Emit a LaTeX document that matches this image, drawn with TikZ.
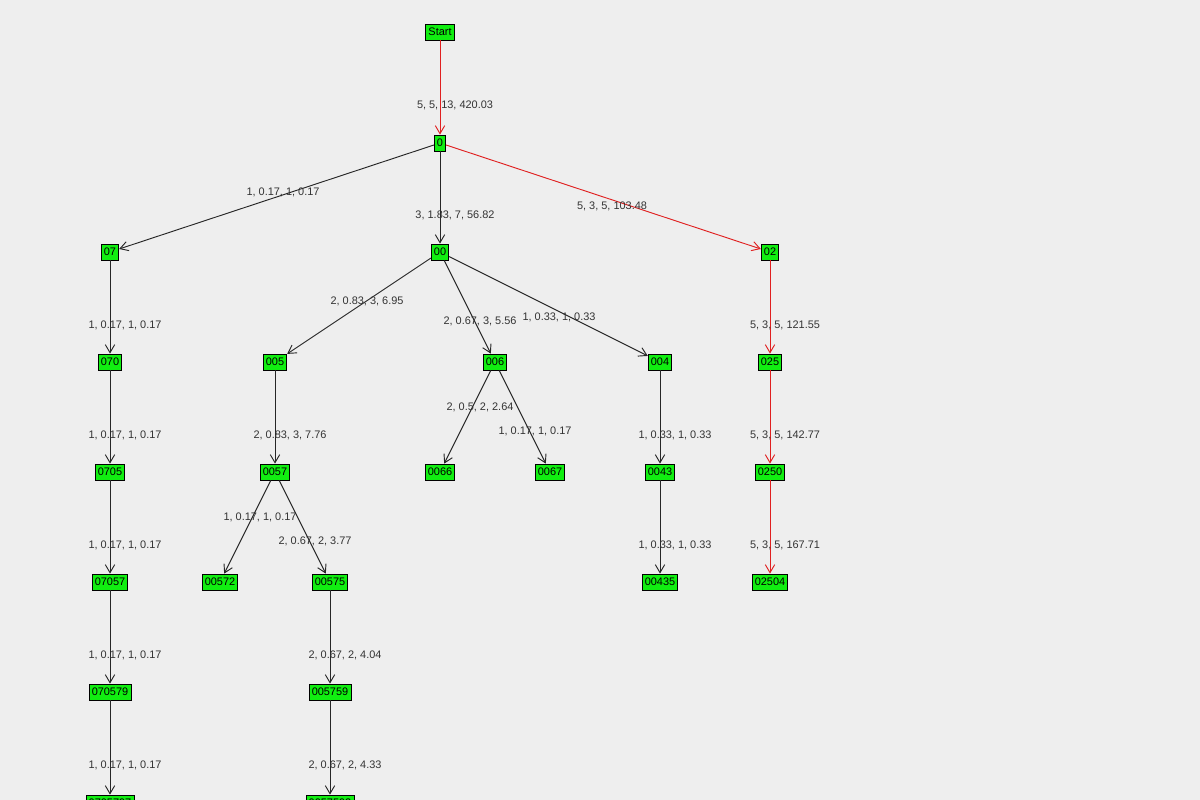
\documentclass[tikz,border=0pt]{standalone}
\usepackage{fontspec}
\setmainfont{Liberation Sans}
\usetikzlibrary{arrows.meta}
\definecolor{bg}{HTML}{EEEEEE}
\definecolor{nodegreen}{HTML}{11EE11}
\definecolor{lbl}{HTML}{333333}
\definecolor{redline}{HTML}{E02020}
\begin{document}
\begin{tikzpicture}[x=0.75pt,y=-0.75pt,
  tn/.style={draw=black,fill=nodegreen,inner xsep=2pt,inner ysep=1pt,minimum height=12pt,font=\fontsize{8.2}{9}\selectfont,line width=0.6pt},
  ed/.style={draw=black!85,line width=0.7pt,-{Straight Barb[length=6pt,width=7pt]}},
  red/.style={ed,draw=redline},
  el/.style={font=\fontsize{8.2}{9}\selectfont,text=lbl}]
\fill[bg] (0,0) rectangle (1200,800);
\useasboundingbox (0,0) rectangle (1200,800);
\clip (0,0) rectangle (1200,800);
\node[tn] (s) at (440,32) {Start};
\node[tn] (n0) at (440,143) {0};
\node[tn] (n07) at (110,252) {07};
\node[tn] (n00) at (440,252) {00};
\node[tn] (n02) at (770,252) {02};
\node[tn] (n070) at (110,362) {070};
\node[tn] (n005) at (275,362) {005};
\node[tn] (n006) at (495,362) {006};
\node[tn] (n004) at (660,362) {004};
\node[tn] (n025) at (770,362) {025};
\node[tn] (n0705) at (110,472) {0705};
\node[tn] (n0057) at (275,472) {0057};
\node[tn] (n0066) at (440,472) {0066};
\node[tn] (n0067) at (550,472) {0067};
\node[tn] (n0043) at (660,472) {0043};
\node[tn] (n0250) at (770,472) {0250};
\node[tn] (n07057) at (110,582) {07057};
\node[tn] (n00572) at (220,582) {00572};
\node[tn] (n00575) at (330,582) {00575};
\node[tn] (n00435) at (660,582) {00435};
\node[tn] (n02504) at (770,582) {02504};
\node[tn] (n070579) at (110,692) {070579};
\node[tn] (n005759) at (330,692) {005759};
\node[tn] (nb1) at (110,803) {0705797};
\node[tn] (nb2) at (330,803) {0057592};
\draw[red] (s) -- (n0);
\draw[ed] (n0) -- (n07);
\draw[ed] (n0) -- (n00);
\draw[red] (n0) -- (n02);
\draw[ed] (n07) -- (n070);
\draw[ed] (n00) -- (n005);
\draw[ed] (n00) -- (n006);
\draw[ed] (n00) -- (n004);
\draw[red] (n02) -- (n025);
\draw[ed] (n070) -- (n0705);
\draw[ed] (n005) -- (n0057);
\draw[ed] (n006) -- (n0066);
\draw[ed] (n006) -- (n0067);
\draw[ed] (n004) -- (n0043);
\draw[red] (n025) -- (n0250);
\draw[ed] (n0705) -- (n07057);
\draw[ed] (n0057) -- (n00572);
\draw[ed] (n0057) -- (n00575);
\draw[ed] (n0043) -- (n00435);
\draw[red] (n0250) -- (n02504);
\draw[ed] (n07057) -- (n070579);
\draw[ed] (n00575) -- (n005759);
\draw[ed] (n070579) -- (nb1);
\draw[ed] (n005759) -- (nb2);
\node[el] (l1) at (455,105) {5, 5, 13, 420.03};
\node[el] (l2) at (283,192) {1, 0.17, 1, 0.17};
\node[el] (l3) at (455,215) {3, 1.83, 7, 56.82};
\node[el] (l4) at (612,206) {5, 3, 5, 103.48};
\node[el] (l5) at (125,325) {1, 0.17, 1, 0.17};
\node[el] (l6) at (367,301) {2, 0.83, 3, 6.95};
\node[el] (l7) at (480,321) {2, 0.67, 3, 5.56};
\node[el] (l8) at (559,317) {1, 0.33, 1, 0.33};
\node[el] (l9) at (785,325) {5, 3, 5, 121.55};
\node[el] (l10) at (125,435) {1, 0.17, 1, 0.17};
\node[el] (l11) at (290,435) {2, 0.83, 3, 7.76};
\node[el] (l12) at (480,407) {2, 0.5, 2, 2.64};
\node[el] (l13) at (535,431) {1, 0.17, 1, 0.17};
\node[el] (l14) at (675,435) {1, 0.33, 1, 0.33};
\node[el] (l15) at (785,435) {5, 3, 5, 142.77};
\node[el] (l16) at (125,545) {1, 0.17, 1, 0.17};
\node[el] (l17) at (260,517) {1, 0.17, 1, 0.17};
\node[el] (l18) at (315,541) {2, 0.67, 2, 3.77};
\node[el] (l19) at (675,545) {1, 0.33, 1, 0.33};
\node[el] (l20) at (785,545) {5, 3, 5, 167.71};
\node[el] (l21) at (125,655) {1, 0.17, 1, 0.17};
\node[el] (l22) at (345,655) {2, 0.67, 2, 4.04};
\node[el] (l23) at (125,765) {1, 0.17, 1, 0.17};
\node[el] (l24) at (345,765) {2, 0.67, 2, 4.33};
\end{tikzpicture}
\end{document}
